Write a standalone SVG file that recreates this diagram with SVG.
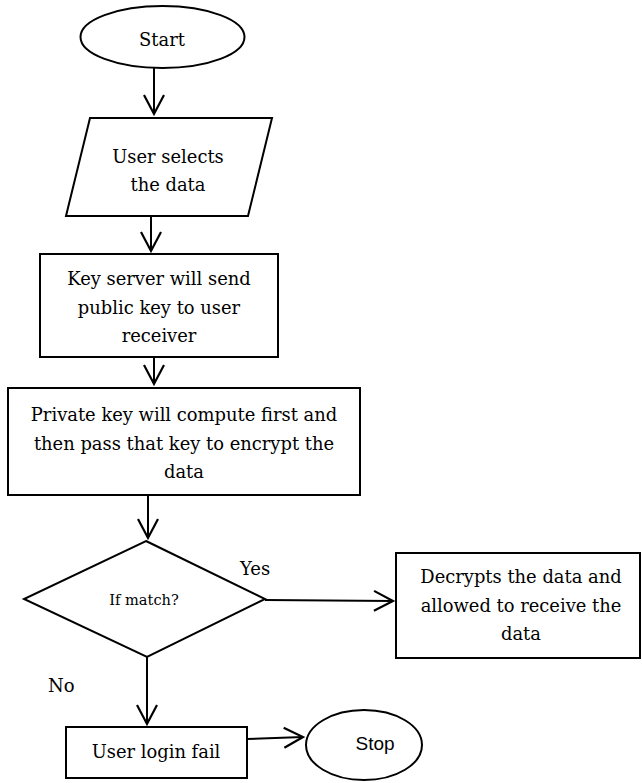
<svg xmlns="http://www.w3.org/2000/svg" width="642" height="783" viewBox="0 0 642 783">
  <style>
    .shape { fill: #ffffff; stroke: #000000; stroke-width: 2; }
    .label { font-family: "DejaVu Serif", "Liberation Serif", serif; font-size: 17.9px; fill: #000000; text-anchor: middle; }
    .small { font-family: "DejaVu Serif", "Liberation Serif", serif; font-size: 14.6px; fill: #000000; text-anchor: middle; }
    .branch { font-family: "DejaVu Serif", "Liberation Serif", serif; font-size: 18px; fill: #000000; }
    .sans { font-family: "Liberation Sans", Arial, sans-serif; font-size: 19px; fill: #000000; text-anchor: middle; }
    .flow { fill: none; stroke: #000000; stroke-width: 2; marker-end: url(#vhead); }
  </style>
  <defs>
    <!-- open V arrowhead used by every connector -->
    <marker id="vhead" markerUnits="userSpaceOnUse" markerWidth="24" markerHeight="24" refX="0" refY="0" orient="auto" overflow="visible">
      <path d="M -19 -10 L 0 0 L -19 10" fill="none" stroke="#000000" stroke-width="2.2"/>
    </marker>
  </defs>

  <!-- connectors -->
  <g id="connectors">
    <line class="flow" x1="154" y1="68" x2="154" y2="114"/>
    <line class="flow" x1="151" y1="216" x2="151" y2="251"/>
    <line class="flow" x1="154" y1="357" x2="154" y2="384"/>
    <line class="flow" x1="148" y1="495" x2="148" y2="538"/>
    <line class="flow" x1="265" y1="600" x2="393" y2="601"/>
    <line class="flow" x1="147" y1="657" x2="147" y2="724"/>
    <line class="flow" x1="247" y1="739" x2="303" y2="737"/>
    <text class="branch" x="240" y="575">Yes</text>
    <text class="branch" x="48" y="692">No</text>
  </g>

  <g id="start">
    <ellipse class="shape" cx="162.5" cy="37" rx="82" ry="31"/>
    <text class="label" x="162" y="46">Start</text>
  </g>

  <g id="select-data">
    <polygon class="shape" points="90,118 272,118 248,216 66,216"/>
    <text class="label" x="168" y="163">User selects</text>
    <text class="label" x="168" y="191">the data</text>
  </g>

  <g id="send-public-key">
    <rect class="shape" x="40" y="254" width="238" height="103"/>
    <text class="label" x="159" y="285">Key server will send</text>
    <text class="label" x="159" y="314">public key to user</text>
    <text class="label" x="159" y="342">receiver</text>
  </g>

  <g id="encrypt">
    <rect class="shape" x="8" y="388" width="352" height="107"/>
    <text class="label" x="184" y="421">Private key will compute first and</text>
    <text class="label" x="184" y="450">then pass that key to encrypt the</text>
    <text class="label" x="184" y="478">data</text>
  </g>

  <g id="if-match">
    <polygon class="shape" points="146,541 265,599 147,657 24,599"/>
    <text class="small" x="144" y="605">If match?</text>
  </g>

  <g id="decrypt">
    <rect class="shape" x="396" y="553" width="244" height="105"/>
    <text class="label" x="521" y="583">Decrypts the data and</text>
    <text class="label" x="521" y="612">allowed to receive the</text>
    <text class="label" x="521" y="640">data</text>
  </g>

  <g id="login-fail">
    <rect class="shape" x="66" y="727" width="181" height="51"/>
    <text class="label" x="156" y="758">User login fail</text>
  </g>

  <g id="stop">
    <ellipse class="shape" cx="364" cy="745" rx="58" ry="35"/>
    <text class="sans" x="375" y="750">Stop</text>
  </g>
</svg>
